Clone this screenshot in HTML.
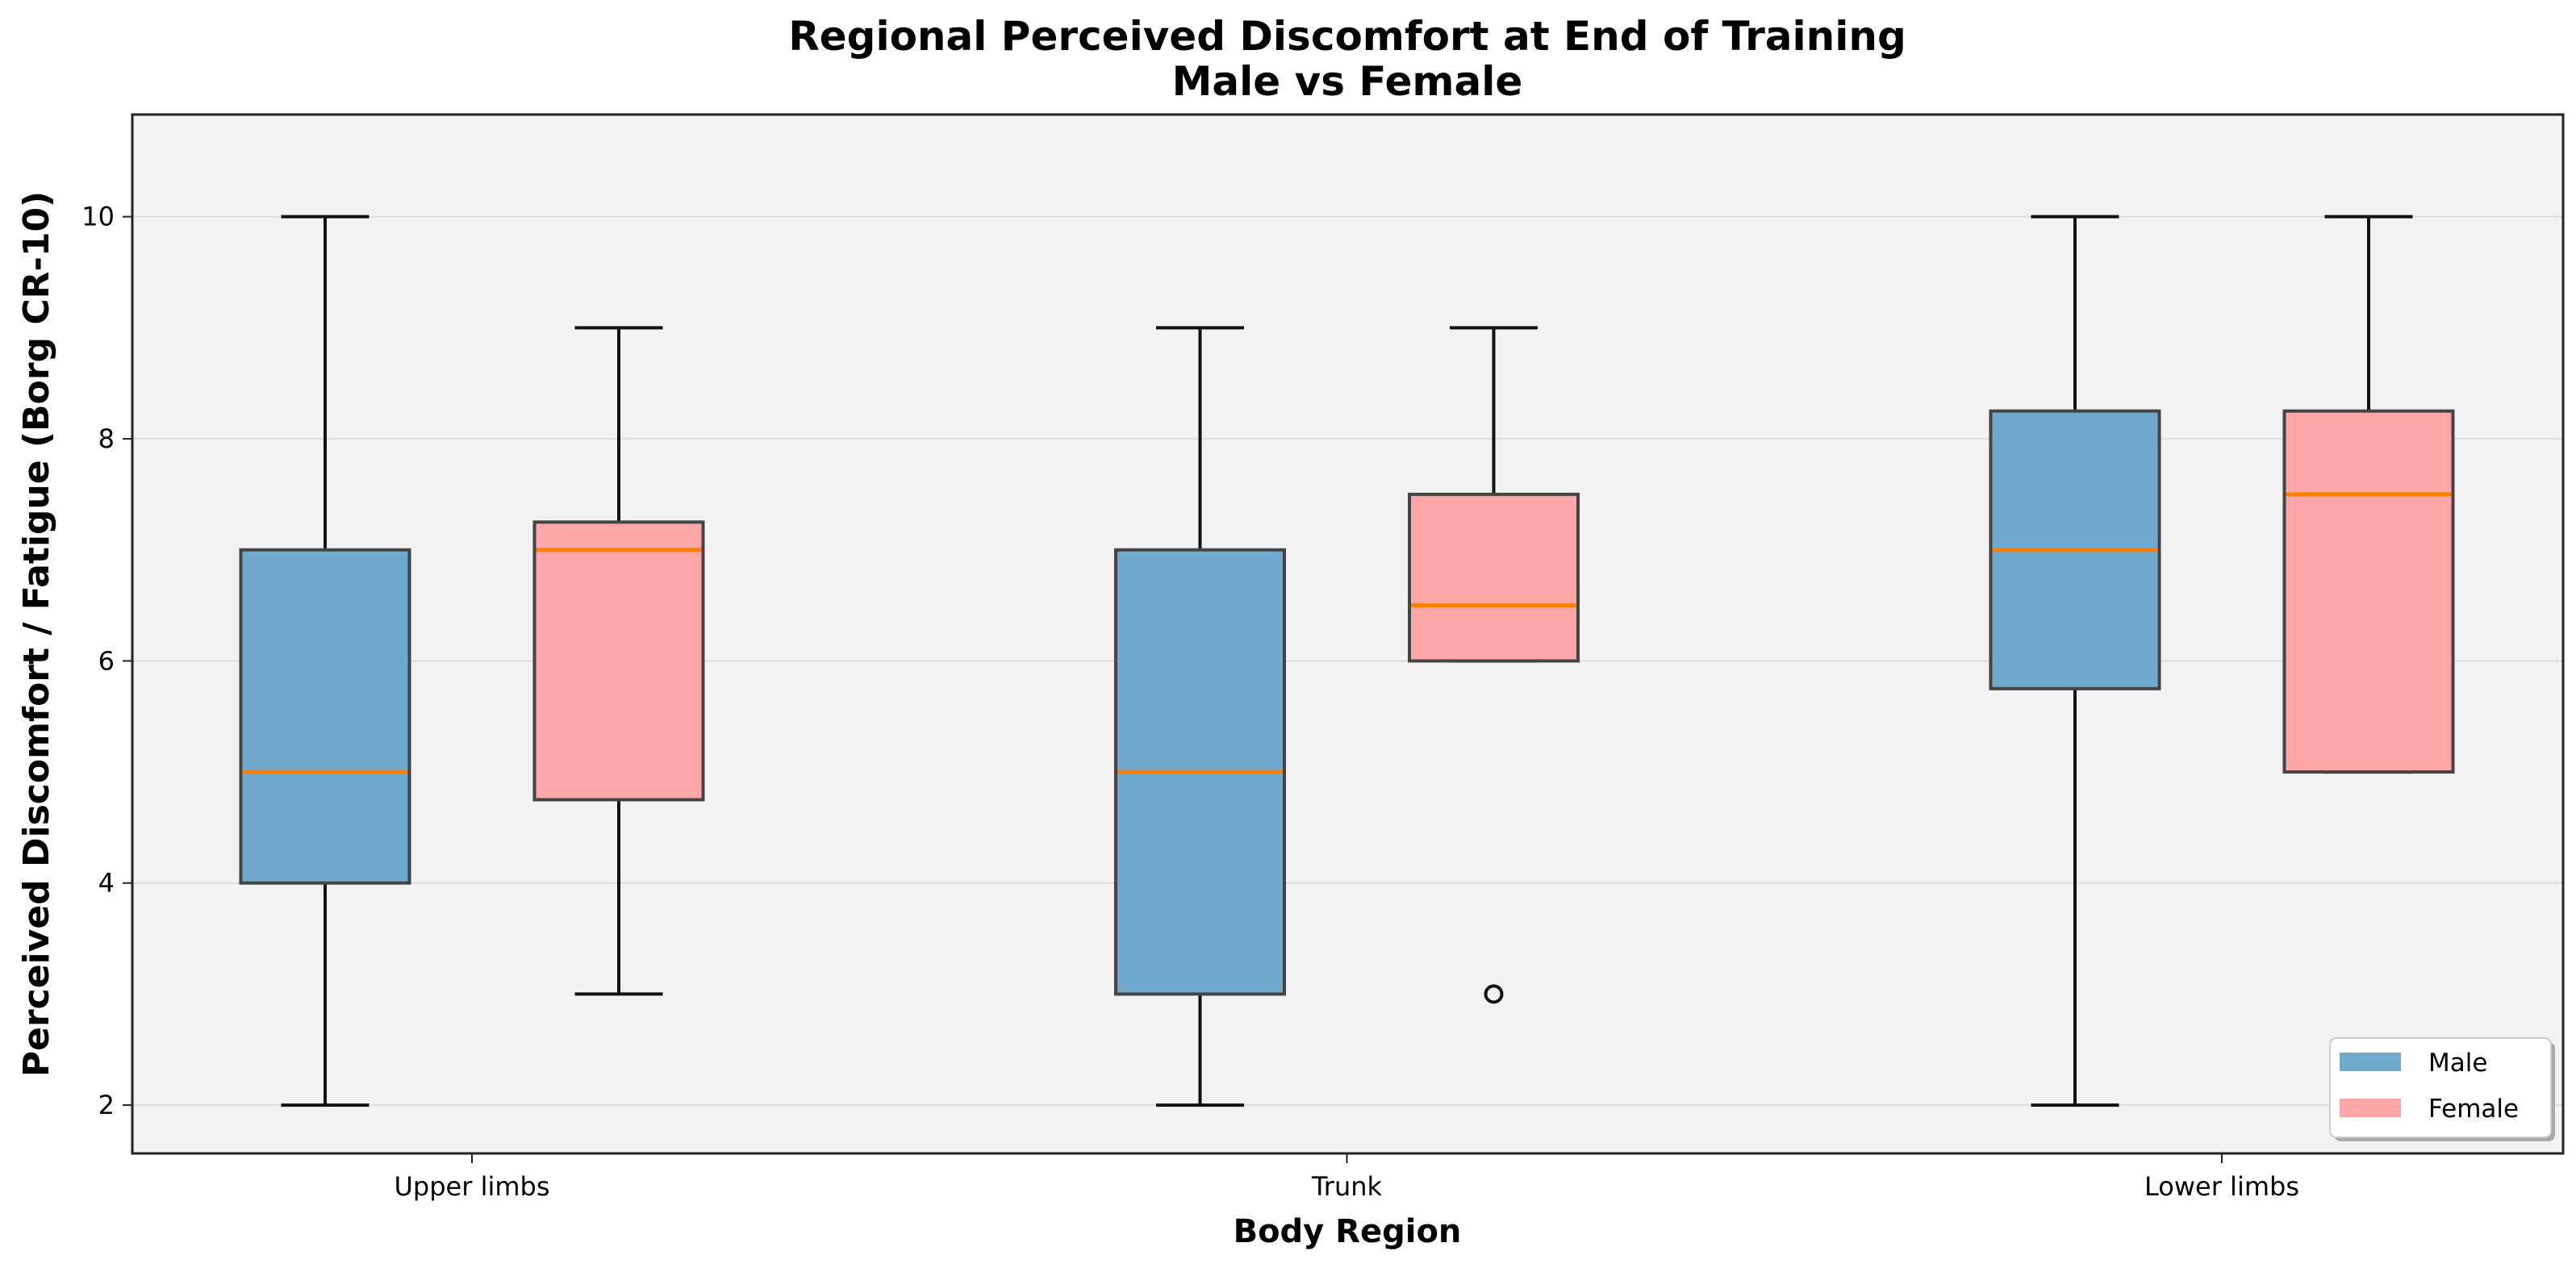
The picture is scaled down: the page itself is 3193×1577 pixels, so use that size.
<!DOCTYPE html>
<html><head><meta charset="utf-8"><style>
html,body{margin:0;padding:0;background:#fff;}
svg{display:block;font-family:"DejaVu Sans","Liberation Sans",sans-serif;}
</style></head><body>
<svg id="chart" width="3193" height="1577" viewBox="0 0 3193 1577" xmlns="http://www.w3.org/2000/svg">
<text x="1670" y="62" text-anchor="middle" font-size="50" font-weight="bold">Regional Perceived Discomfort at End of Training</text>
<text x="1670" y="118" text-anchor="middle" font-size="50" font-weight="bold">Male vs Female</text>
<rect x="164" y="142" width="3013" height="1288" fill="#f2f2f2"/>
<g id="grid"></g>
<g id="boxes"></g>
<rect x="164" y="142" width="3013" height="1288" fill="none" stroke="#222" stroke-width="3"/>
<g id="yaxis"></g>
<g id="xaxis"></g>
<text transform="translate(60,786) rotate(-90)" text-anchor="middle" font-size="44" font-weight="bold">Perceived Discomfort / Fatigue (Borg CR-10)</text>
<text x="1670" y="1540" text-anchor="middle" font-size="40" font-weight="bold">Body Region</text>
<g>
<rect x="2893" y="1292" width="274" height="123" rx="8" fill="#aaa"/>
<rect x="2888" y="1287" width="274" height="123" rx="8" fill="#fff" stroke="#ccc" stroke-width="2"/>
<rect x="2900" y="1305" width="76" height="23" fill="#6fa9cd"/>
<text x="3010" y="1328" font-size="31">Male</text>
<rect x="2900" y="1362" width="76" height="23" fill="#ffa7a8"/>
<text x="3010" y="1385" font-size="31">Female</text>
</g>
</svg>
<script>
const categories = ["Upper limbs", "Trunk", "Lower limbs"];
const maleWhiskLow = [2, 2, 2];
const maleQ1 = [4, 3, 5.75];
const maleMedian = [5, 5, 7];
const maleQ3 = [7, 7, 8.25];
const maleWhiskHigh = [10, 9, 10];
const femaleWhiskLow = [3, 6, 5];
const femaleQ1 = [4.75, 6, 5];
const femaleMedian = [7, 6.5, 7.5];
const femaleQ3 = [7.25, 7.5, 8.25];
const femaleWhiskHigh = [9, 9, 10];
const femaleOutliers = [[], [3], []];
const maleOutliers = [[], [], []];
const yTicks = [2, 4, 6, 8, 10];

const NS = "http://www.w3.org/2000/svg";
const yMin = 1.565, yMax = 10.92, plotTop = 142, plotBot = 1430;
function y(v){ return plotBot - (v - yMin) / (yMax - yMin) * (plotBot - plotTop); }
const x0 = 585, step = 1084.5;
function xc(i){ return x0 + i * step; }
function mk(tag, attrs, parent){ const e = document.createElementNS(NS, tag); for (const k in attrs) e.setAttribute(k, attrs[k]); parent.appendChild(e); return e; }

const grid = document.getElementById('grid');
const yaxis = document.getElementById('yaxis');
yTicks.forEach(t => {
  const g = mk('line', {x1:164, x2:3177, y1:y(t), y2:y(t), stroke:'#dcdcdc', 'stroke-width':2}, grid);
  
  
  const tk = mk('line', {x1:152, x2:164, y1:y(t), y2:y(t), stroke:'#222', 'stroke-width':2}, yaxis);
  
  
  const lb = mk('text', {x:142, y:y(t) + 11, 'text-anchor':'end', 'font-size':32}, yaxis);
  lb.textContent = t;
  
  
});
const xaxis = document.getElementById('xaxis');
categories.forEach((c, i) => {
  const tk = mk('line', {x1:xc(i), x2:xc(i), y1:1430, y2:1442, stroke:'#222', 'stroke-width':2}, xaxis);
  
  
  const lb = mk('text', {x:xc(i), y:1482, 'text-anchor':'middle', 'font-size':32}, xaxis);
  lb.textContent = c;
  
  
});

const boxes = document.getElementById('boxes');
const bw = 209, cw = 109;
function drawBox(cx, lo, q1, med, q3, hi, outs, fill, name){
  const g = mk('g', {}, boxes);
  
  
  mk('line', {x1:cx, x2:cx, y1:y(q3), y2:y(hi), stroke:'#111', 'stroke-width':4}, g);
  mk('line', {x1:cx, x2:cx, y1:y(q1), y2:y(lo), stroke:'#111', 'stroke-width':4}, g);
  mk('line', {x1:cx-cw/2, x2:cx+cw/2, y1:y(hi), y2:y(hi), stroke:'#111', 'stroke-width':4}, g);
  mk('line', {x1:cx-cw/2, x2:cx+cw/2, y1:y(lo), y2:y(lo), stroke:'#111', 'stroke-width':4}, g);
  mk('rect', {x:cx-bw/2, y:y(q3), width:bw, height:y(q1)-y(q3), fill:fill, stroke:'#444', 'stroke-width':4}, g);
  mk('line', {x1:cx-bw/2+2, x2:cx+bw/2-2, y1:y(med), y2:y(med), stroke:'#ff8000', 'stroke-width':5}, g);
  outs.forEach(o => mk('circle', {cx:cx, cy:y(o), r:10, fill:'none', stroke:'#111', 'stroke-width':4}, g));
}
categories.forEach((c, i) => {
  drawBox(xc(i)-182, maleWhiskLow[i], maleQ1[i], maleMedian[i], maleQ3[i], maleWhiskHigh[i], maleOutliers[i], '#6fa9cd', 'box-male-' + i);
  drawBox(xc(i)+182, femaleWhiskLow[i], femaleQ1[i], femaleMedian[i], femaleQ3[i], femaleWhiskHigh[i], femaleOutliers[i], '#ffa7a8', 'box-female-' + i);
});
</script>
</body></html>
